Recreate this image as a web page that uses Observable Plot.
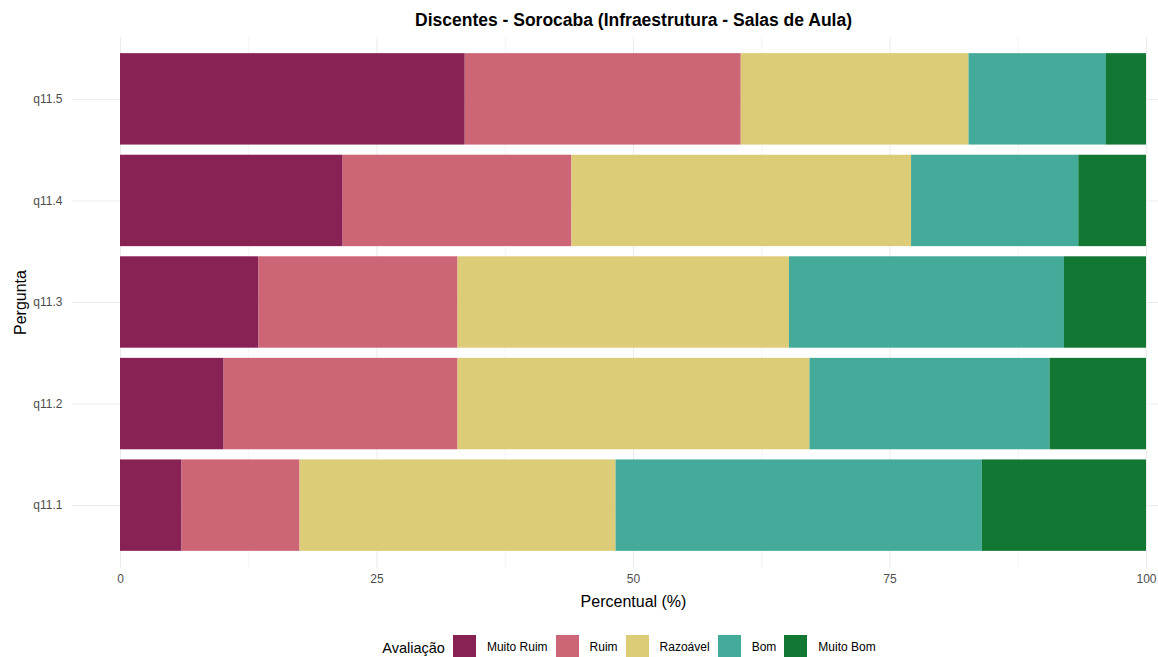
<!DOCTYPE html>
<html>
<head>
<meta charset="utf-8">
<script src="https://cdn.jsdelivr.net/npm/d3@7"></script>
<script src="https://cdn.jsdelivr.net/npm/@observablehq/plot@0.6"></script>
<style>
  html, body { margin: 0; padding: 0; background: #fff; }
  body { width: 1158px; height: 657px; overflow: hidden; font-family: "Liberation Sans", Arial, sans-serif; position: relative; }
  #legend { position: absolute; left: 120px; width: 1026px; top: 635px; display: flex; justify-content: center; align-items: flex-start; }
  #legend .ttl { font-size: 14.5px; color: #000; margin-right: 8px; line-height: 22px; margin-top: 2px; }
  #legend .key { width: 23px; height: 22px; margin-right: 11px; }
  #legend .lab { font-size: 12px; color: #000; margin-right: 8px; line-height: 22px; margin-top: 1px; }
</style>
</head>
<body>
<div id="chart"></div>
<div id="legend"></div>
<script>
const questions = ["q11.5", "q11.4", "q11.3", "q11.2", "q11.1"];
const levels = ["Muito Ruim", "Ruim", "Razoável", "Bom", "Muito Bom"];
const colors = ["#882255", "#CC6677", "#DDCC77", "#44AA99", "#117733"];
// percentages per question, in order of levels
const q115 = [33.6, 26.9, 22.2, 13.4, 3.9];
const q114 = [21.7, 22.3, 33.1, 16.3, 6.6];
const q113 = [13.5, 19.4, 32.3, 26.8, 8.0];
const q112 = [10.1, 22.8, 34.3, 23.4, 9.4];
const q111 = [6.0, 11.5, 30.8, 35.7, 16.0];
const majorTicks = [0, 25, 50, 75, 100];
const minorTicks = [12.5, 37.5, 62.5, 87.5];
const titleText = "Discentes - Sorocaba (Infraestrutura - Salas de Aula)";

const series = {"q11.5": q115, "q11.4": q114, "q11.3": q113, "q11.2": q112, "q11.1": q111};
const data = [];
for (const q of questions) {
  series[q].forEach((v, i) => data.push({pergunta: q, avaliacao: levels[i], value: v}));
}

const W = 1158, H = 620;
const plot = Plot.plot({
  width: W,
  height: H,
  marginTop: 43,
  marginBottom: H - 561,
  marginLeft: 120,
  marginRight: 12,
  style: {fontFamily: "'Liberation Sans', Arial, sans-serif", background: "#fff"},
  x: {domain: [0, 100], axis: null},
  y: {domain: questions, padding: 0.1, round: false, axis: null},
  color: {domain: levels, range: colors},
  marks: [
    Plot.ruleX(minorTicks, {stroke: "#f4f4f4", strokeWidth: 1, insetTop: -6, insetBottom: -7}),
    Plot.ruleX(majorTicks, {stroke: "#ebebeb", strokeWidth: 1, insetTop: -6, insetBottom: -7}),
    Plot.ruleY(questions, {y: d => d, stroke: "#ebebeb", strokeWidth: 1, insetLeft: -48, insetRight: -12}),
    Plot.barX(data, Plot.stackX({x: "value", y: "pergunta", fill: "avaliacao", order: levels})),
    Plot.axisY({tickSize: 0, tickPadding: 58, fontSize: 12, color: "#4d4d4d", label: null}),
    Plot.axisX({ticks: majorTicks, tickSize: 0, tickPadding: 13, fontSize: 12, color: "#4d4d4d", label: null}),
    Plot.text(["Percentual (%)"], {frameAnchor: "bottom", lineAnchor: "middle", dy: 40, fontSize: 16, fill: "#000"}),
    Plot.text(["Pergunta"], {frameAnchor: "left", textAnchor: "middle", lineAnchor: "middle", dx: -100, rotate: -90, fontSize: 16, fill: "#000"}),
    Plot.text([titleText], {frameAnchor: "top", lineAnchor: "middle", dy: -23, fontSize: 17.5, fontWeight: "bold", fill: "#000"})
  ]
});
document.getElementById("chart").appendChild(plot);

const leg = document.getElementById("legend");
const t = document.createElement("span");
t.className = "ttl"; t.textContent = "Avaliação";
leg.appendChild(t);
levels.forEach((l, i) => {
  const k = document.createElement("span");
  k.className = "key"; k.style.background = colors[i];
  leg.appendChild(k);
  const s = document.createElement("span");
  s.className = "lab"; s.textContent = l;
  leg.appendChild(s);
});
</script>
</body>
</html>
